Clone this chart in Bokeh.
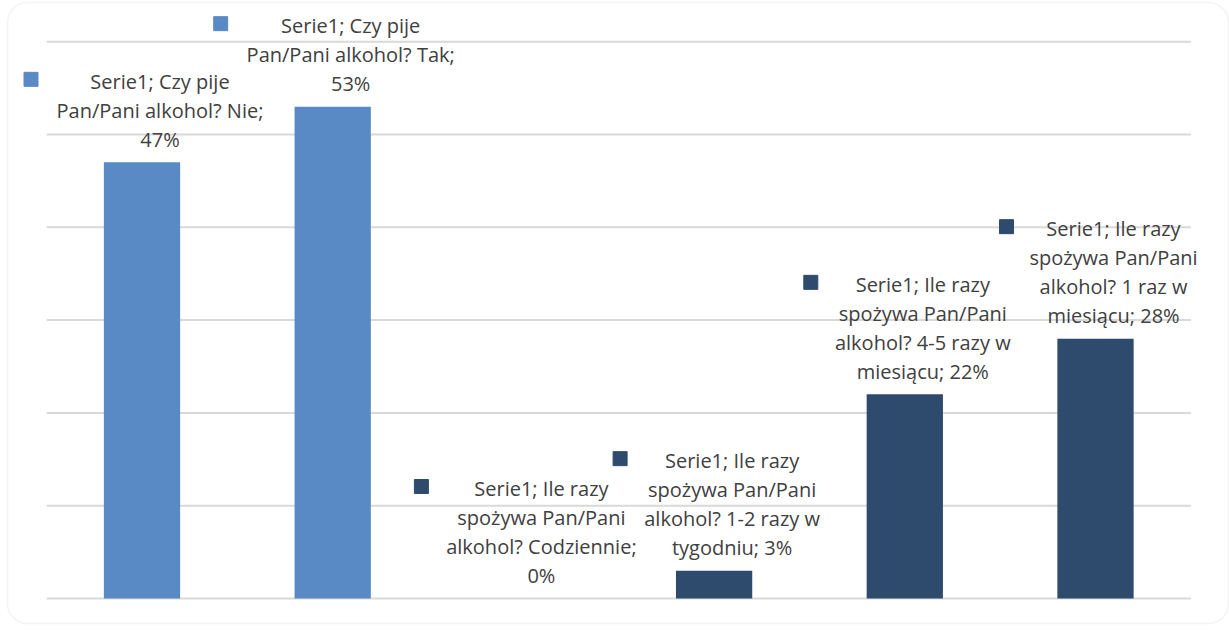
from bokeh.plotting import figure
from bokeh.models import ColumnDataSource, Range1d, BoxAnnotation
from bokeh.embed import file_html
from bokeh.resources import INLINE
from bokeh.core.properties import value

# ---------------- data ----------------
categories = [
    "Czy pije Pan/Pani alkohol? Nie",
    "Czy pije Pan/Pani alkohol? Tak",
    "Ile razy spożywa Pan/Pani alkohol? Codziennie",
    "Ile razy spożywa Pan/Pani alkohol? 1-2 razy w tygodniu",
    "Ile razy spożywa Pan/Pani alkohol? 4-5 razy w miesiącu",
    "Ile razy spożywa Pan/Pani alkohol? 1 raz w miesiącu",
]
values = [47, 53, 0, 3, 22, 28]
groups = ["Czy pije", "Czy pije", "Ile razy", "Ile razy", "Ile razy", "Ile razy"]
label_lines = [
    ["Serie1; Czy pije", "Pan/Pani alkohol? Nie;", "47%"],
    ["Serie1; Czy pije", "Pan/Pani alkohol? Tak;", "53%"],
    ["Serie1; Ile razy", "spożywa Pan/Pani", "alkohol? Codziennie;", "0%"],
    ["Serie1; Ile razy", "spożywa Pan/Pani", "alkohol? 1-2 razy w", "tygodniu; 3%"],
    ["Serie1; Ile razy", "spożywa Pan/Pani", "alkohol? 4-5 razy w", "miesiącu; 22%"],
    ["Serie1; Ile razy", "spożywa Pan/Pani", "alkohol? 1 raz w", "miesiącu; 28%"],
]
grid_ticks = [0, 10, 20, 30, 40, 50, 60]

# ---------------- style / layout ----------------
group_colors = {"Czy pije": "#5A8AC6", "Ile razy": "#2E4A6D"}
TEXT_COLOR = "#404040"
GRID_COLOR = "#D9D9D9"
FONT = "Open Sans"
FONT_SIZE = "20px"
W, H = 1229, 630
PX_PER_CAT = 190.7
PX_PER_PCT = 9.28
ORIGIN_X, ORIGIN_Y = 141.5, 598      # screen px of first category / zero line
X0 = -ORIGIN_X / PX_PER_CAT
X1 = X0 + W / PX_PER_CAT
Y1 = ORIGIN_Y / PX_PER_PCT
Y0 = Y1 - H / PX_PER_PCT
UX = 1 / PX_PER_CAT
UY = 1 / PX_PER_PCT
LINE_H = 29
LABEL_DX = 18
LABEL_GAP = 23
marker_dx = [-111, -112, -102, -94, -94, -89]

xs = list(range(len(categories)))
colors = [group_colors[g] for g in groups]

p = figure(width=W, height=H, x_range=Range1d(X0, X1), y_range=Range1d(Y0, Y1),
           output_backend="svg", toolbar_location=None, min_border=0)
p.axis.visible = False
p.grid.visible = False
p.outline_line_color = None
p.background_fill_color = "white"
p.border_fill_color = "white"

n = len(categories)
p.segment(x0=[-0.5] * len(grid_ticks), x1=[n - 0.5] * len(grid_ticks),
          y0=grid_ticks, y1=grid_ticks, line_color=GRID_COLOR, line_width=2)

src = ColumnDataSource(dict(x=xs, top=values, color=colors))
p.vbar(x="x", top="top", bottom=0, width=0.4, fill_color="color", line_color=None, source=src)

tx, ty, tt, toff = [], [], [], []
mx, my, mc = [], [], []
for i, (x, v, lines) in enumerate(zip(xs, values, label_lines)):
    k = len(lines)
    for j, line in enumerate(lines):
        tx.append(x)
        ty.append(v)
        tt.append(line)
        toff.append(-(LABEL_GAP + (k - 1 - j) * LINE_H))
    mx.append(x + marker_dx[i] * UX)
    my.append(v + (LABEL_GAP + (k - 1) * LINE_H + 2) * UY)
    mc.append(colors[i])

tsrc = ColumnDataSource(dict(x=tx, y=ty, text=tt, yoff=toff))
p.text(x="x", y="y", text="text", y_offset="yoff", x_offset=LABEL_DX, source=tsrc,
       text_align="center", text_baseline="middle", text_color=TEXT_COLOR,
       text_font=value(FONT), text_font_size=FONT_SIZE)

p.scatter(x=mx, y=my, marker="square", size=14, fill_color=mc, line_color=mc)

p.add_layout(BoxAnnotation(left=7, right=1228, top=7, bottom=628,
                           left_units="screen", right_units="screen",
                           top_units="screen", bottom_units="screen",
                           fill_color=None, line_color=GRID_COLOR, line_width=1.5,
                           border_radius=20))

open("out.html", "w").write(file_html(p, INLINE))
